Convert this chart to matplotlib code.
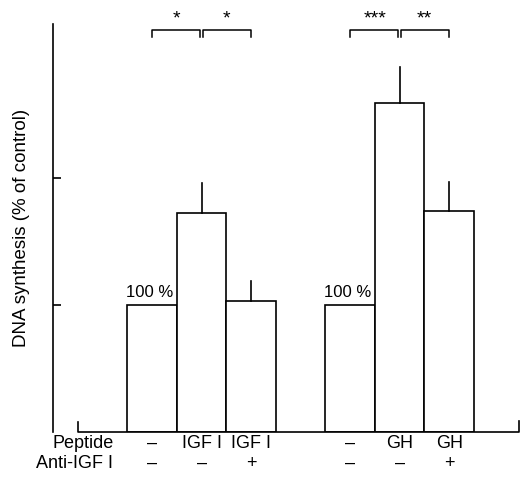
import matplotlib.pyplot as plt

plt.rcParams['font.family'] = ['Liberation Sans', 'DejaVu Sans']

# bar data (% of control)
xpos = [1, 2, 3, 5, 6, 7]
values = [100, 172, 103, 100, 259, 174]
errors = [0, 24, 16, 0, 28, 23]
peptide = ['–', 'IGF I', 'IGF I', '–', 'GH', 'GH']
anti_igf = ['–', '–', '+', '–', '–', '+']

# significance brackets: (left bar, right bar, stars)
brackets = [(1, 2, '*'), (2, 3, '*'), (5, 6, '***'), (6, 7, '**')]

W, H = 521, 487
fig = plt.figure(figsize=(W / 100, H / 100), dpi=100)
ax = fig.add_axes([53 / W, 1 - 432 / H, 466 / W, 408 / H])
ax.set_xlim(-1, 8.41)
ax.set_ylim(0, 321)

ax.bar(xpos, values, width=1, color='white', edgecolor='black', linewidth=1.2, zorder=2)
for x, v, e in zip(xpos, values, errors):
    if e > 0:
        ax.plot([x, x], [v, v + e], color='black', lw=1.2, zorder=3)

# baseline with upturned ends
ax.plot([-0.5, -0.5, 8.4, 8.4], [8, 0, 0, 9], color='black', lw=1.2, clip_on=False, zorder=3)

for sp in ['top', 'right', 'bottom']:
    ax.spines[sp].set_visible(False)
ax.spines['left'].set_linewidth(1.2)
ax.set_xticks([])
ax.set_yticks([100, 200])
ax.set_yticklabels([])
ax.tick_params(axis='y', direction='in', length=6, width=1.2)

ax.set_ylabel('DNA synthesis (% of control)', fontsize=13.5, labelpad=13)

# 100% labels
for x in [1, 5]:
    ax.text(x - 0.05, 104, '100 %', ha='center', va='bottom', fontsize=12)

# brackets and stars
for a, b, s in brackets:
    x0 = a + 0.03 if a in (2, 6) else a
    x1 = b - 0.03 if b in (2, 6) else b
    ax.plot([x0, x0, x1, x1], [311, 316, 316, 311], color='black', lw=1.1, clip_on=False)
    ax.text((a + b) / 2, 318, s, ha='center', va='bottom', fontsize=14, clip_on=False)

# condition table under the bars
ax.text(0.22, -9, 'Peptide', ha='right', va='center', fontsize=13)
ax.text(0.22, -24.5, 'Anti-IGF I', ha='right', va='center', fontsize=13)
for x, p, a in zip(xpos, peptide, anti_igf):
    ax.text(x, -9, p, ha='center', va='center', fontsize=13)
    ax.text(x, -24.5, a, ha='center', va='center', fontsize=13)

fig.savefig('out.png', dpi=100)
